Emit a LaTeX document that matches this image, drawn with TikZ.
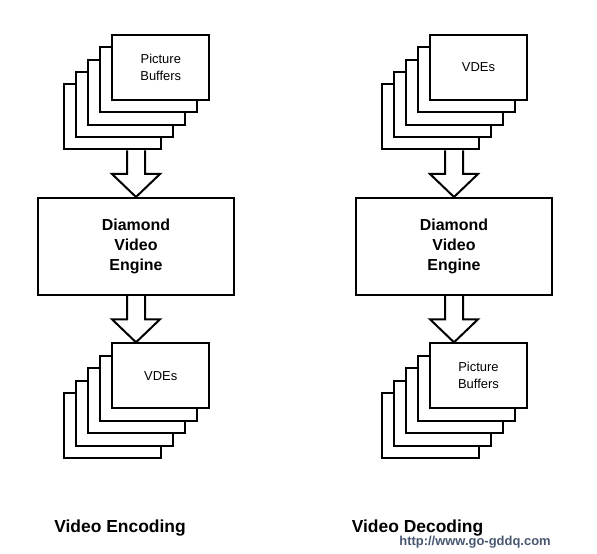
\documentclass[tikz,border=0pt]{standalone}
\usepackage{fontspec}
\setmainfont{Liberation Sans}
\usetikzlibrary{calc}

\definecolor{markgray}{RGB}{72,86,112}

\newcommand{\fatarrow}[3]{%
  \draw let \p1=(#2), \p2=(#1), \p3=(#3) in
    (\x3-9bp,\y2) -- (\x3-9bp,\y1+23bp) -- (\x3-24bp,\y1+23bp) -- (\x3,\y1)
    -- (\x3+24bp,\y1+23bp) -- (\x3+9bp,\y1+23bp) -- (\x3+9bp,\y2);}

\begin{document}
\begin{tikzpicture}[
  x=1bp, y=-1bp, line width=2bp,
  card/.style={draw, fill=white, inner sep=0pt, align=center,
    minimum width=97bp, minimum height=65bp,
    font=\fontsize{13}{17}\selectfont},
  eng/.style={draw, inner sep=0pt, align=center,
    minimum width=196bp, minimum height=97bp,
    font=\bfseries\fontsize{16}{20}\selectfont},
  ttl/.style={anchor=base, font=\bfseries\fontsize{17.5}{20}\selectfont}
]
\useasboundingbox (0,0) rectangle (597,554);

% encoding
\foreach \i in {4,3,2,1}
  \node[card] (encin\i) at ({160.8-12*\i},{67.3+12.4*\i}) {};
\node[card] (encin0) at (160.8,67.3) {Picture\\Buffers};
\node[eng] (dveA) at (136,246.5) {Diamond\\Video\\Engine};
\foreach \i in {4,3,2,1}
  \node[card] (encout\i) at ({160.8-12*\i},{375.8+12.4*\i}) {};
\node[card] (encout0) at (160.8,375.8) {VDEs};
\fatarrow{encin4.south}{dveA.north}{dveA}
\fatarrow{dveA.south}{encout0.north}{dveA}

% decoding
\foreach \i in {4,3,2,1}
  \node[card] (decin\i) at ({478.5-12*\i},{67.3+12.4*\i}) {};
\node[card] (decin0) at (478.5,67.3) {VDEs};
\node[eng] (dveB) at (454,246.5) {Diamond\\Video\\Engine};
\foreach \i in {4,3,2,1}
  \node[card] (decout\i) at ({478.5-12*\i},{375.8+12.4*\i}) {};
\node[card] (decout0) at (478.5,375.8) {Picture\\Buffers};
\fatarrow{decin4.south}{dveB.north}{dveB}
\fatarrow{dveB.south}{decout0.north}{dveB}

\node[ttl] (encttl) at (120,532) {Video Encoding};
\node[ttl] (decttl) at (417.5,532) {Video Decoding};
\node[anchor=base, text=markgray, font=\bfseries\fontsize{13}{15}\selectfont]
  (mark) at (475,545) {http://www.go-gddq.com};
\end{tikzpicture}
\end{document}
